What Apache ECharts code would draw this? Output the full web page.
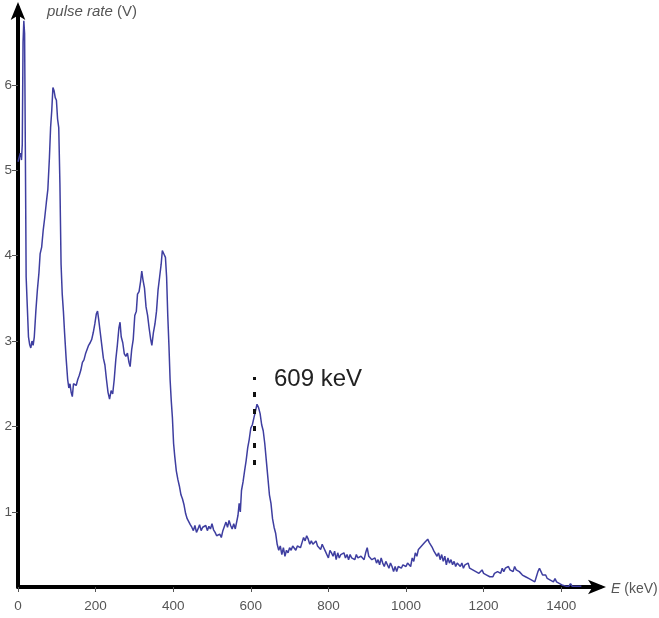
<!DOCTYPE html>
<html>
<head>
<meta charset="utf-8">
<script src="https://cdn.jsdelivr.net/npm/echarts@6/dist/echarts.min.js"></script>
<style>
  html, body { margin: 0; padding: 0; background: #fff; }
  #chart { width: 659px; height: 618px; }
</style>
</head>
<body>
<div id="chart"></div>
<script>
// spectrum
var energyKeV = [
  0, 3, 6, 9, 11, 13, 15, 17, 19, 21, 24, 27, 30, 33, 36, 39, 42, 46, 50, 54,
  57, 61, 65, 69, 73, 77, 81, 84, 87, 90, 93, 96, 99, 102, 105, 108, 111, 114, 117, 120,
  124, 128, 131, 134, 137, 140, 143, 146, 150, 154, 158, 162, 166, 170, 174, 178, 182, 186, 190, 194,
  198, 202, 205, 208, 212, 216, 220, 224, 228, 232, 236, 240, 244, 248, 252, 256, 260, 263, 266, 270,
  274, 278, 282, 286, 289, 293, 297, 301, 305, 308, 312, 316, 319, 322, 326, 330, 334, 338, 342, 345,
  349, 353, 357, 361, 365, 369, 372, 376, 380, 383, 386, 389, 392, 395, 398, 401, 404, 408, 412, 416,
  420, 424, 428, 432, 436, 440, 444, 448, 452, 456, 460, 464, 468, 472, 476, 480, 484, 488, 492, 496,
  500, 504, 508, 512, 516, 520, 524, 528, 532, 536, 540, 544, 548, 552, 556, 560, 564, 567, 570, 573,
  576, 580, 584, 588, 592, 596, 600, 604, 608, 612, 616, 620, 624, 628, 632, 636, 640, 644, 648, 652,
  656, 660, 664, 668, 672, 676, 680, 684, 688, 692, 696, 700, 704, 708, 712, 716, 720, 724, 728, 732,
  736, 740, 744, 748, 752, 756, 760, 764, 768, 772, 776, 780, 784, 788, 792, 796, 800, 804, 808, 812,
  816, 820, 824, 828, 832, 836, 840, 844, 848, 852, 856, 860, 864, 868, 872, 876, 880, 884, 888, 892,
  896, 900, 904, 908, 912, 916, 920, 924, 928, 932, 936, 940, 944, 948, 952, 956, 960, 964, 968, 972,
  976, 980, 984, 988, 992, 996, 1000, 1004, 1008, 1012, 1016, 1020, 1024, 1028, 1032, 1036, 1040, 1044, 1048, 1052,
  1056, 1060, 1064, 1068, 1072, 1076, 1080, 1084, 1088, 1092, 1096, 1100, 1104, 1108, 1112, 1116, 1120, 1124, 1128, 1132,
  1136, 1140, 1144, 1148, 1152, 1156, 1160, 1164, 1168, 1172, 1176, 1180, 1184, 1188, 1192, 1196, 1200, 1204, 1208, 1212,
  1216, 1220, 1224, 1228, 1232, 1236, 1240, 1244, 1248, 1252, 1256, 1260, 1264, 1268, 1272, 1276, 1280, 1284, 1288, 1292,
  1296, 1300, 1304, 1308, 1312, 1316, 1320, 1324, 1328, 1332, 1336, 1340, 1344, 1348, 1352, 1356, 1360, 1364, 1368, 1372,
  1376, 1380, 1384, 1388, 1392, 1396, 1400, 1404, 1408, 1412, 1416, 1420, 1424, 1428, 1432, 1436, 1440, 1444, 1448, 1452
];
var pulseRate = [
  5.10, 5.15, 5.20, 5.12, 5.30, 6.50, 6.75, 6.60, 5.20, 3.75, 3.40, 3.05, 2.96, 2.92, 3.00, 2.95, 3.05, 3.35, 3.60, 3.80,
  4.02, 4.10, 4.30, 4.45, 4.62, 4.78, 5.15, 5.50, 5.70, 5.97, 5.93, 5.85, 5.82, 5.60, 5.50, 4.85, 3.90, 3.55, 3.35, 3.10,
  2.80, 2.55, 2.45, 2.50, 2.40, 2.35, 2.50, 2.52, 2.48, 2.55, 2.60, 2.66, 2.75, 2.78, 2.85, 2.90, 2.95, 2.98, 3.02, 3.10,
  3.20, 3.32, 3.35, 3.25, 3.10, 2.95, 2.80, 2.72, 2.55, 2.40, 2.32, 2.42, 2.38, 2.55, 2.78, 2.95, 3.15, 3.22, 3.05, 2.98,
  2.85, 2.82, 2.86, 2.75, 2.70, 2.90, 3.02, 3.30, 3.35, 3.55, 3.58, 3.70, 3.82, 3.72, 3.62, 3.40, 3.30, 3.15, 3.02, 2.95,
  3.10, 3.20, 3.35, 3.60, 3.75, 3.90, 4.06, 4.02, 3.98, 3.75, 3.30, 2.95, 2.55, 2.30, 2.10, 1.80, 1.65, 1.48, 1.38, 1.30,
  1.20, 1.15, 1.08, 0.98, 0.92, 0.90, 0.85, 0.82, 0.78, 0.84, 0.76, 0.80, 0.85, 0.78, 0.82, 0.80, 0.84, 0.78, 0.83, 0.80,
  0.86, 0.79, 0.76, 0.72, 0.70, 0.74, 0.70, 0.78, 0.80, 0.88, 0.82, 0.90, 0.84, 0.80, 0.86, 0.80, 0.82, 0.96, 1.10, 1.00,
  1.25, 1.35, 1.48, 1.60, 1.75, 1.85, 1.98, 2.02, 2.10, 2.18, 2.26, 2.22, 2.15, 2.02, 1.95, 1.80, 1.60, 1.40, 1.20, 1.10,
  0.92, 0.82, 0.75, 0.62, 0.55, 0.60, 0.50, 0.58, 0.48, 0.55, 0.52, 0.58, 0.55, 0.60, 0.58, 0.55, 0.60, 0.62, 0.58, 0.64,
  0.70, 0.66, 0.72, 0.68, 0.62, 0.66, 0.62, 0.60, 0.66, 0.60, 0.62, 0.56, 0.62, 0.58, 0.54, 0.52, 0.46, 0.55, 0.52, 0.48,
  0.54, 0.44, 0.52, 0.46, 0.50, 0.48, 0.52, 0.46, 0.50, 0.44, 0.50, 0.46, 0.48, 0.44, 0.50, 0.46, 0.44, 0.48, 0.46, 0.44,
  0.52, 0.58, 0.48, 0.46, 0.44, 0.42, 0.46, 0.40, 0.44, 0.38, 0.46, 0.40, 0.36, 0.42, 0.38, 0.34, 0.40, 0.36, 0.30, 0.36,
  0.30, 0.36, 0.38, 0.34, 0.38, 0.40, 0.36, 0.40, 0.38, 0.36, 0.46, 0.42, 0.52, 0.48, 0.56, 0.54, 0.60, 0.58, 0.64, 0.62,
  0.68, 0.64, 0.62, 0.58, 0.54, 0.56, 0.48, 0.52, 0.44, 0.50, 0.42, 0.48, 0.38, 0.46, 0.40, 0.44, 0.38, 0.42, 0.36, 0.40,
  0.38, 0.36, 0.40, 0.34, 0.38, 0.36, 0.40, 0.34, 0.36, 0.32, 0.34, 0.30, 0.32, 0.28, 0.30, 0.32, 0.28, 0.30, 0.26, 0.28,
  0.24, 0.26, 0.24, 0.28, 0.26, 0.30, 0.32, 0.28, 0.34, 0.30, 0.34, 0.32, 0.36, 0.32, 0.34, 0.30, 0.36, 0.32, 0.34, 0.30,
  0.32, 0.26, 0.28, 0.24, 0.26, 0.22, 0.24, 0.20, 0.22, 0.18, 0.24, 0.30, 0.34, 0.30, 0.26, 0.24, 0.26, 0.22, 0.24, 0.20,
  0.22, 0.18, 0.22, 0.18, 0.20, 0.16, 0.18, 0.14, 0.16, 0.13, 0.15, 0.13, 0.16, 0.13, 0.15, 0.13, 0.14, 0.13, 0.15, 0.13
];

var xTicks = [0, 200, 400, 600, 800, 1000, 1200, 1400];
var yTicks = [1, 2, 3, 4, 5, 6];

// the marked photopeak
var peakEnergy = 609;
var peakLabel = '609 keV';
var peakMarkRange = [1.55, 2.58];

var chart = echarts.init(document.getElementById('chart'));

var points = energyKeV.map(function (e, i) { return [e, pulseRate[i]]; });

var axisFont = { color: '#555', fontSize: 13.5, fontFamily: 'Liberation Sans, Arial, sans-serif' };

var option = {
  animation: false,
  backgroundColor: '#fff',
  grid: { left: 18, right: 59, top: 8, bottom: 31, containLabel: false },
  xAxis: {
    type: 'value',
    min: 0,
    max: 1500,
    splitLine: { show: false },
    axisLine: {
      onZero: false,
      lineStyle: { color: '#000', width: 4 },
      symbol: ['none', 'arrow'],
      symbolSize: [11, 18],
      symbolOffset: [0, 6]
    },
    axisTick: { show: true, customValues: xTicks, length: 5, lineStyle: { color: '#555', width: 1 } },
    axisLabel: Object.assign({
      customValues: xTicks,
      margin: 12,
      formatter: function (v) { return String(v); }
    }, axisFont)
  },
  yAxis: {
    type: 'value',
    min: 0.12,
    max: 6.9,
    splitLine: { show: false },
    axisLine: {
      onZero: false,
      lineStyle: { color: '#000', width: 4 },
      symbol: ['none', 'arrow'],
      symbolSize: [11, 18],
      symbolOffset: [0, 6]
    },
    axisTick: { show: true, customValues: yTicks, length: 6, lineStyle: { color: '#555', width: 1 } },
    axisLabel: Object.assign({ customValues: yTicks, margin: 6 }, axisFont)
  },
  graphic: [
    {
      type: 'text',
      left: 47,
      top: 4,
      style: {
        text: '{i|pulse rate} (V)',
        fill: '#555',
        font: '15px Liberation Sans, Arial, sans-serif',
        rich: { i: { fontStyle: 'italic', fontSize: 15, fill: '#555' } }
      }
    },
    {
      type: 'text',
      left: 611,
      top: 582,
      style: {
        text: '{i|E} (keV)',
        fill: '#555',
        font: '14px Liberation Sans, Arial, sans-serif',
        rich: { i: { fontStyle: 'italic', fontSize: 14, fill: '#555' } }
      }
    },
    {
      type: 'text',
      left: 274,
      top: 367,
      style: {
        text: peakLabel,
        fill: '#222',
        font: '24px Liberation Sans, Arial, sans-serif'
      }
    }
  ],
  series: [
    {
      type: 'line',
      data: points,
      showSymbol: false,
      lineStyle: { color: '#3e3ea0', width: 1.5 },
      markLine: {
        silent: true,
        symbol: 'none',
        label: { show: false },
        lineStyle: { color: '#111', width: 3, type: [5, 12] },
        data: [[
          { coord: [peakEnergy, peakMarkRange[0]] },
          { coord: [peakEnergy, peakMarkRange[1]] }
        ]]
      }
    }
  ]
};

chart.setOption(option);
</script>
</body>
</html>
